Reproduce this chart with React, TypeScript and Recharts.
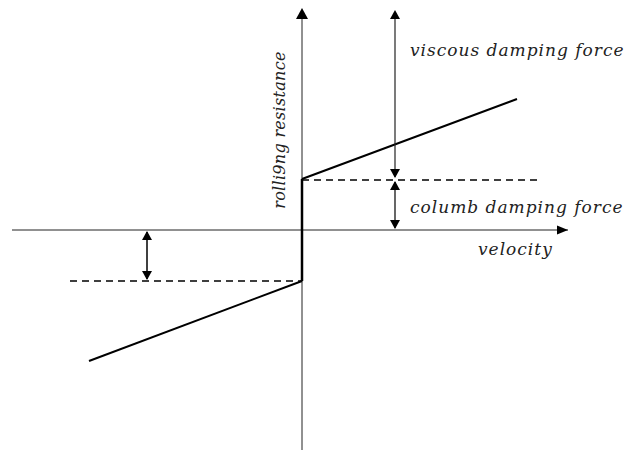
import { ComposedChart, Line, Scatter, XAxis, YAxis, ReferenceDot } from "recharts";

// one unit = 10px; origin where the axes cross
const velocityAxis = [{ x: -29, y: 0 }, { x: 26.6, y: 0 }];
const resistanceAxis = [{ x: 0, y: -22 }, { x: 0, y: 21.4 }];

const positiveBranch = [{ x: 0, y: 5.1 }, { x: 21.5, y: 13.1 }];
const negativeBranch = [{ x: -21.3, y: -13.1 }, { x: 0, y: -5.1 }];
const coulombJump = [{ x: 0, y: -5.1 }, { x: 0, y: 5.1 }];

const upperLevel = [{ x: 0, y: 5 }, { x: 23.8, y: 5 }];
const lowerLevel = [{ x: -23.2, y: -5.1 }, { x: 0, y: -5.1 }];

const viscousDim = [{ x: 9.3, y: 21.8 }, { x: 9.3, y: 5.3 }];
const coulombDim = [{ x: 9.3, y: 4.8 }, { x: 9.3, y: 0.2 }];
const lowerDim = [{ x: -15.5, y: -0.2 }, { x: -15.5, y: -4.9 }];

const axisUpHeads = [{ x: 0, y: 22.2 }];
const axisRightHeads = [{ x: 26.6, y: 0 }];
const dimUpHeads = [{ x: 9.3, y: 22 }, { x: 9.3, y: 4.9 }, { x: -15.5, y: -0.1 }];
const dimDownHeads = [{ x: 9.3, y: 5.2 }, { x: 9.3, y: 0.1 }, { x: -15.5, y: -5 }];

const FONT = "'DejaVu Serif', 'Liberation Serif', serif";

const tri = (dir: string, w: number, h: number) => (p: any) => {
  const { cx, cy } = p;
  let pts = "";
  if (dir === "up") pts = `${cx},${cy} ${cx - w / 2},${cy + h} ${cx + w / 2},${cy + h}`;
  if (dir === "down") pts = `${cx},${cy} ${cx - w / 2},${cy - h} ${cx + w / 2},${cy - h}`;
  if (dir === "right") pts = `${cx},${cy} ${cx - h},${cy - w / 2} ${cx - h},${cy + w / 2}`;
  return <polygon points={pts} fill="#000" />;
};

const label = (text: string, rotate = false) => (props: any) => {
  const { x, y } = props.viewBox;
  return (
    <text
      x={x}
      y={y}
      fontFamily={FONT}
      fontStyle="italic"
      fontSize={rotate ? 16 : 17}
      letterSpacing={rotate ? 0.3 : 1}
      fill="#222"
      textAnchor={rotate ? "middle" : "start"}
      transform={rotate ? `rotate(-90 ${x} ${y})` : undefined}
    >
      {text}
    </text>
  );
};

function seg(data: { x: number; y: number }[], width: number, dash?: string, color = "#000") {
  return (
    <Line
      data={data}
      dataKey="y"
      stroke={color}
      strokeWidth={width}
      strokeDasharray={dash}
      dot={false}
      activeDot={false}
      isAnimationActive={false}
    />
  );
}

export default function App() {
  return (
    <div style={{ position: "absolute", left: 0, top: 0, background: "#fff" }}>
      <ComposedChart width={625} height={451} margin={{ top: 0, right: 0, bottom: 0, left: 0 }}>
        <XAxis type="number" dataKey="x" domain={[-30.2, 32.3]} hide />
        <YAxis type="number" domain={[-22.1, 23]} hide />
        {seg(velocityAxis, 1, undefined, "#222")}
        {seg(resistanceAxis, 1, undefined, "#222")}
        {seg(upperLevel, 1.5, "7 5")}
        {seg(lowerLevel, 1.5, "7 5")}
        {seg(positiveBranch, 2)}
        {seg(negativeBranch, 2)}
        {seg(coulombJump, 2.5)}
        {seg(viscousDim, 1.2, undefined, "#222")}
        {seg(coulombDim, 1.2)}
        {seg(lowerDim, 1.5)}
        <Scatter data={axisUpHeads} dataKey="y" shape={tri("up", 12, 11)} isAnimationActive={false} />
        <Scatter data={axisRightHeads} dataKey="y" shape={tri("right", 9, 11)} isAnimationActive={false} />
        <Scatter data={dimUpHeads} dataKey="y" shape={tri("up", 10, 9)} isAnimationActive={false} />
        <Scatter data={dimDownHeads} dataKey="y" shape={tri("down", 10, 9)} isAnimationActive={false} />
        <ReferenceDot x={10.8} y={17.4} r={0} fill="none" stroke="none" label={{ content: label("viscous damping force") }} />
        <ReferenceDot x={10.8} y={1.7} r={0} fill="none" stroke="none" label={{ content: label("columb damping force") }} />
        <ReferenceDot x={17.6} y={-2.5} r={0} fill="none" stroke="none" label={{ content: label("velocity") }} />
        <ReferenceDot x={-1.7} y={10} r={0} fill="none" stroke="none" label={{ content: label("rolli9ng resistance", true) }} />
      </ComposedChart>
    </div>
  );
}
